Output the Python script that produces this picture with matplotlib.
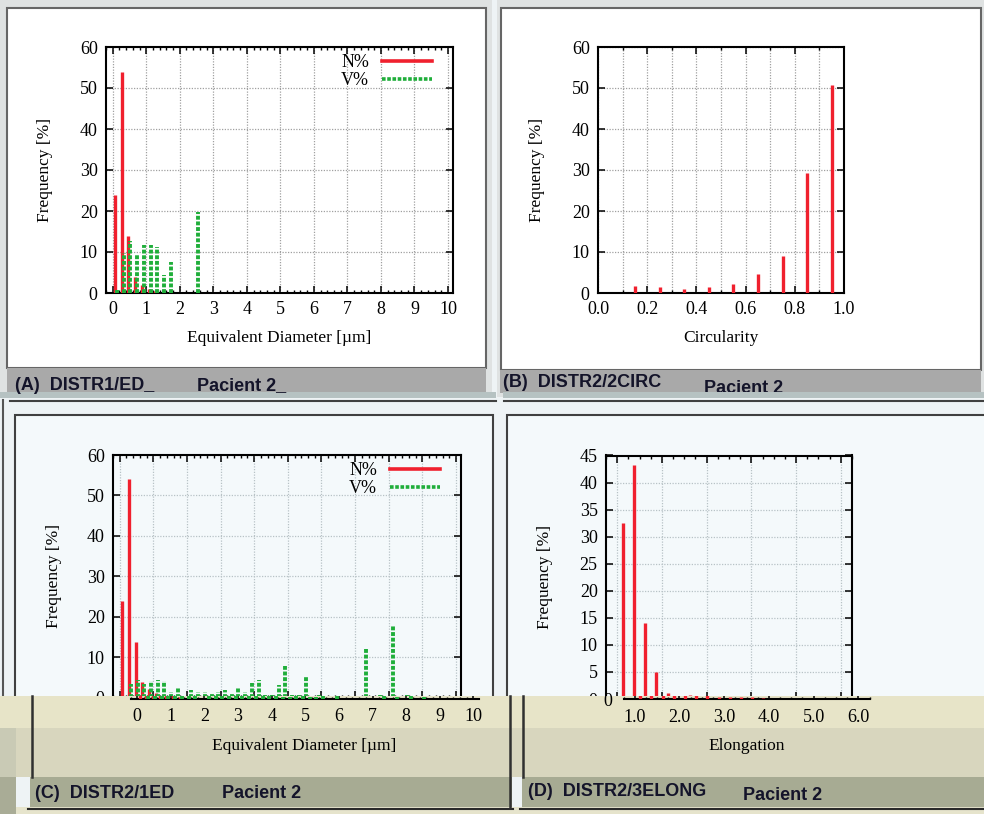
import matplotlib
matplotlib.use('Agg')
import matplotlib.pyplot as plt
from matplotlib.patches import Rectangle
from matplotlib.lines import Line2D
from matplotlib.ticker import MultipleLocator, FormatStrFormatter
from matplotlib.transforms import blended_transform_factory as blend

plt.rcParams['font.family'] = ['Liberation Serif', 'DejaVu Serif']

# ---------------- data ----------------
# (A) DISTR1/ED  equivalent diameter, bin centres [um]
a_bins = [0.1, 0.3, 0.5, 0.7, 0.9, 1.1, 1.3, 1.5, 1.7, 1.9, 2.1, 2.3, 2.5]
a_n = [24.0, 54.0, 13.8, 3.8, 2.0, 1.0, 0.5, 0.0, 0.0, 0.0, 0.0, 0.0, 0.0]
a_v = [0.8, 9.8, 12.7, 9.4, 11.7, 11.8, 11.2, 4.3, 7.5, 0.0, 0.0, 0.0, 19.7]

# (B) DISTR2/2CIRC circularity
b_bins = [0.15, 0.25, 0.35, 0.45, 0.55, 0.65, 0.75, 0.85, 0.95]
b_n = [1.6, 1.4, 1.0, 1.4, 2.2, 4.6, 9.0, 29.3, 50.8]

# (C) DISTR2/1ED equivalent diameter
c_n_bins = [0.1, 0.3, 0.5, 0.7, 0.9, 1.1, 1.3]
c_n = [24.0, 54.0, 13.8, 3.8, 2.0, 1.0, 0.3]
c_v_bins = [0.3, 0.5, 0.7, 0.9, 1.1, 1.3, 1.5, 1.7, 2.1, 2.3, 2.5, 2.7, 2.9,
            3.1, 3.3, 3.5, 3.7, 3.9, 4.1, 4.3, 4.5, 4.7, 4.9, 5.1, 5.3, 5.5,
            5.9, 7.3, 7.7, 8.1, 8.5]
c_v = [3.3, 4.3, 3.4, 4.1, 4.3, 4.0, 1.3, 2.3, 1.8, 1.4, 1.4, 1.0, 1.4,
       1.9, 1.0, 2.7, 1.4, 3.6, 4.3, 0.5, 0.5, 3.0, 7.8, 0.5, 0.5, 5.0,
       0.6, 12.3, 0.5, 18.0, 0.5]

# (D) DISTR2/3ELONG elongation
d_bins = [1.125, 1.375, 1.625, 1.875, 2.125, 2.375, 2.625, 2.875, 3.125,
          3.375, 3.625, 3.875]
d_n = [32.5, 43.3, 14.0, 4.9, 1.1, 0.6, 0.8, 0.4, 0.4, 0.3, 0.3, 0.2]

series_labels = ['N%', 'V%']
captions = [('(A)  DISTR1/ED_', 'Pacient 2_'), ('(B)  DISTR2/2CIRC', 'Pacient 2_'),
            ('(C)  DISTR2/1ED', 'Pacient 2'), ('(D)  DISTR2/3ELONG', 'Pacient 2')]

RED = '#f0202e'
GREEN = '#1fae3a'
DOT = (0, (1.0, 0.45))
OFF = 0.03
TICK_FS = 13

W, H = 984, 814
fig = plt.figure(figsize=(W / 100, H / 100), dpi=100, facecolor='#eef3f5')


def px_axes(l, t, r, b, z=0):
    return fig.add_axes([l / W, 1 - b / H, (r - l) / W, (b - t) / H], zorder=z)


def frect(l, t, r, b, z=-5, **kw):
    fig.add_artist(Rectangle((l / W, 1 - b / H), (r - l) / W, (b - t) / H,
                             transform=fig.transFigure, zorder=z, **kw))


def fline(x0, y0, x1, y1, z=-4, **kw):
    fig.add_artist(Line2D([x0 / W, x1 / W], [1 - y0 / H, 1 - y1 / H],
                          transform=fig.transFigure, zorder=z, **kw))


def gp(ax, xlim, ylim, xmaj, xmin, ymaj, fc, gridc, minor_grid=False):
    ax.set_facecolor(fc)
    ax.set_xlim(*xlim)
    ax.set_ylim(*ylim)
    ax.xaxis.set_major_locator(MultipleLocator(xmaj))
    ax.xaxis.set_minor_locator(MultipleLocator(xmin))
    ax.yaxis.set_major_locator(MultipleLocator(ymaj))
    ax.tick_params(which='major', direction='in', length=5, width=1.1,
                   top=True, right=True, labelsize=TICK_FS, pad=6)
    ax.tick_params(which='minor', direction='in', length=2.5, width=1,
                   top=True, right=True)
    for s in ax.spines.values():
        s.set_linewidth(1.5)
    ax.grid(which='major', color=gridc, ls=(0, (1, 1.2)), lw=0.9)
    if minor_grid:
        ax.grid(which='minor', axis='x', color=gridc, ls=(0, (1, 1.2)), lw=0.9)
    ax.set_axisbelow(True)


def ylab(ax, xpix):
    ax.set_ylabel('Frequency [%]', fontsize=12.5)
    ax.yaxis.set_label_coords(xpix / W, 0.5, transform=blend(fig.transFigure, ax.transAxes))


def xlab(ax, text, ypix):
    ax.set_xlabel(text, fontsize=12.5)
    ax.xaxis.set_label_coords(0.5, 1 - ypix / H, transform=blend(ax.transAxes, fig.transFigure))


def legend(ax):
    hs = [Line2D([], [], color=RED, lw=2.6),
          Line2D([], [], color=GREEN, lw=2.6, ls=DOT)]
    ax.legend(hs, series_labels, loc='upper right', bbox_to_anchor=(0.94, 0.97),
              frameon=False, markerfirst=False, handlelength=2.8, handletextpad=0.7,
              borderpad=0, borderaxespad=0, labelspacing=0.05, fontsize=13)


def bars(ax, x, y, color, shift, dotted=False):
    ax.vlines([v + shift for v in x], 0, y, colors=color,
              lw=2.8 if dotted else 2.4,
              linestyles=DOT if dotted else 'solid', zorder=3)


# ---------------- window chrome ----------------
frect(0, 0, 492, 397, fc='#dfe2e2')
frect(497, 0, 984, 397, fc='#dfe2e2')
frect(7, 8, 486, 368, fc='white', ec='#666666', lw=1.5)
frect(7, 368, 486, 392, fc='#a9a9a9')
frect(501, 8, 981, 370, fc='white', ec='#666666', lw=1.5)
frect(500, 370, 981, 393, fc='#a9a9a9')
frect(0, 392, 496, 398, fc='#b6c2c2', z=-3)
frect(503, 392, 984, 398, fc='#b6c2c2', z=2)
fline(10, 401, 496, 401, color='#404040', lw=1.5)
fline(504, 401, 984, 401, color='#404040', lw=1.5)
frect(15, 415, 493, 760, fc='#f4f9fb', ec='#404040', lw=1.5)
frect(507, 415, 992, 760, fc='#f4f9fb', ec='#404040', lw=1.5)
fline(3, 400, 3, 700, color='#555555', lw=1.5)

# ---------------- (A) ----------------
axA = px_axes(106, 47, 453, 293)
gp(axA, (-0.2, 10.15), (0, 60), 1, 0.2, 10, 'white', '#a0a0a0')
bars(axA, a_bins, a_n, RED, -OFF)
bars(axA, a_bins, a_v, GREEN, OFF, dotted=True)
ylab(axA, 53)
xlab(axA, 'Equivalent Diameter [µm]', 330)
legend(axA)

# ---------------- (B) ----------------
axB = px_axes(598, 47, 844, 293)
gp(axB, (0, 1.0), (0, 60), 0.2, 0.1, 10, 'white', '#a0a0a0', minor_grid=True)
axB.xaxis.set_major_formatter(FormatStrFormatter('%.1f'))
bars(axB, b_bins, b_n, RED, 0)
ylab(axB, 545)
xlab(axB, 'Circularity', 330)

# ---------------- (C) ----------------
axC = px_axes(113, 455, 461, 697.5)
gp(axC, (-0.2, 10.15), (0, 60), 1, 0.2, 10, '#f4f9fb', '#b8c2c6')
axC.tick_params(labelbottom=False)
bars(axC, c_n_bins, c_n, RED, -OFF)
bars(axC, c_v_bins, c_v, GREEN, OFF, dotted=True)
ylab(axC, 62)
legend(axC)

# ---------------- (D) ----------------
axD = px_axes(606, 455.5, 852, 699)
gp(axD, (0.75, 6.25), (0, 45), 1, 0.25, 5, '#f4f9fb', '#b8c2c6')
axD.tick_params(labelbottom=False)
bars(axD, d_bins, d_n, RED, 0)
ylab(axD, 553)

# ---------------- shifted lower strip of the screenshot ----------------
frect(0, 696, 984, 728, z=1, fc='#e7e4c8')
frect(0, 728, 984, 777, z=1, fc='#d8d6be')
frect(0, 728, 16, 777, z=1, fc='#c9cab5')
frect(30, 777, 512, 807, z=1, fc='#a7ab93')
frect(522, 777, 984, 807, z=1, fc='#a7ab93')
frect(0, 777, 16, 814, z=1, fc='#a9ac96')
frect(16, 807, 984, 814, z=1, fc='#e6e4cc')
fline(28, 808.5, 513, 808.5, z=1.5, color='#2a2a2a', lw=1.5)
fline(520, 808.5, 984, 808.5, z=1.5, color='#2a2a2a', lw=1.5)
fline(32, 696, 32, 777, z=1.5, color='#303030', lw=1.8)
fline(510, 696, 510, 808, z=1.5, color='#303030', lw=1.8)
fline(523, 696, 523, 777, z=1.5, color='#303030', lw=1.8)

SH = 17.5
axCs = px_axes(113 + SH, 696, 461 + SH, 698.5, z=2)
axDs = px_axes(606 + SH, 696, 852 + SH, 699, z=2)
for ax, xl, ul in ((axCs, (-0.2, 10.15), 60 / 242.5), (axDs, (0.75, 6.25), 45 / 243.5)):
    ax.set_facecolor('none')
    ax.set_xlim(*xl)
    ax.set_ylim(0, 2.7 * ul)
    for k in ('top', 'left', 'right'):
        ax.spines[k].set_visible(False)
    ax.spines['bottom'].set_linewidth(1.5)
    ax.set_yticks([])
    ax.tick_params(which='major', direction='in', length=2.5, width=1.1,
                   labelsize=TICK_FS, pad=7)
    ax.tick_params(which='minor', direction='in', length=1.5, width=1)
axCs.xaxis.set_major_locator(MultipleLocator(1))
axCs.xaxis.set_minor_locator(MultipleLocator(0.2))
bars(axCs, c_n_bins, c_n, RED, -OFF)
bars(axCs, c_v_bins, c_v, GREEN, OFF, dotted=True)
xlab(axCs, 'Equivalent Diameter [µm]', 738)
axDs.xaxis.set_major_locator(MultipleLocator(1))
axDs.xaxis.set_minor_locator(MultipleLocator(0.25))
axDs.xaxis.set_major_formatter(FormatStrFormatter('%.1f'))
axDs.set_yticks([0])
axDs.tick_params(axis='y', length=0, pad=8, labelsize=TICK_FS)
bars(axDs, d_bins, d_n, RED, 0)
xlab(axDs, 'Elongation', 738)

# ---------------- captions ----------------
cap_kw = dict(fontsize=13, fontweight='bold', color='#14142a', va='center',
              family=['Liberation Sans', 'DejaVu Sans'], zorder=3)
fig.text(15 / W, 1 - 386 / H, captions[0][0], **cap_kw)
fig.text(197 / W, 1 - 386 / H, captions[0][1], **cap_kw)
fig.text(503 / W, 1 - 382 / H, captions[1][0], **cap_kw)
fig.text(704 / W, 1 - 388 / H, captions[1][1], **dict(cap_kw, zorder=1))
fig.text(35 / W, 1 - 793 / H, captions[2][0], **cap_kw)
fig.text(222 / W, 1 - 793 / H, captions[2][1], **cap_kw)
fig.text(528 / W, 1 - 791 / H, captions[3][0], **cap_kw)
fig.text(743 / W, 1 - 795 / H, captions[3][1], **cap_kw)

fig.savefig('out.png', dpi=100, facecolor=fig.get_facecolor())
